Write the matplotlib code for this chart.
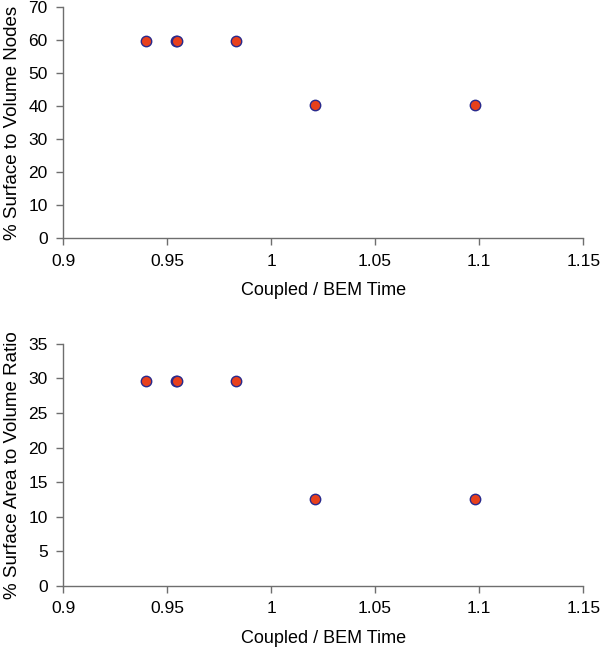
import matplotlib
matplotlib.use('Agg')
import matplotlib.pyplot as plt

# data
time_ratio = [0.940, 0.9543, 0.9548, 0.983, 1.021, 1.098]
pct_nodes = [59.8, 59.8, 59.8, 59.8, 40.4, 40.4]
pct_area = [29.6, 29.6, 29.6, 29.6, 12.5, 12.5]

xticks = [0.9, 0.95, 1.0, 1.05, 1.1, 1.15]
xticklabels = ['0.9', '0.95', '1', '1.05', '1.1', '1.15']

plt.rcParams['font.family'] = ['Liberation Sans', 'DejaVu Sans']

fig = plt.figure(figsize=(6.0, 6.51), dpi=100)
ax1 = fig.add_axes([0.105, 0.634, 0.867, 0.355])
ax2 = fig.add_axes([0.105, 0.100, 0.867, 0.372])

panels = [
    (ax1, pct_nodes, '% Surface to Volume Nodes', 70, 10),
    (ax2, pct_area, '% Surface Area to Volume Ratio', 35, 5),
]

for ax, yvals, ylabel, ymax, ystep in panels:
    ax.plot(time_ratio, yvals, 'o', ms=7.5, mfc='#E8401C', mec='#2A2A8C',
            mew=1.0, ls='none', clip_on=False)
    ax.set_xlim(0.9, 1.15)
    ax.set_ylim(0, ymax)
    ax.set_xticks(xticks)
    ax.set_xticklabels(xticklabels)
    ax.set_yticks(range(0, ymax + 1, ystep))
    for s in ['top', 'right']:
        ax.spines[s].set_visible(False)
    for s in ['left', 'bottom']:
        ax.spines[s].set_color('#6E6E6E')
        ax.spines[s].set_linewidth(1.0)
    ax.tick_params(direction='out', length=5, width=1, color='#6E6E6E',
                   labelsize=12.5, pad=6)
    ax.set_xlabel('Coupled / BEM Time', fontsize=13, labelpad=10)
    ax.set_ylabel(ylabel, fontsize=13.5, labelpad=5)

fig.savefig('out.png', dpi=100, facecolor='white')
